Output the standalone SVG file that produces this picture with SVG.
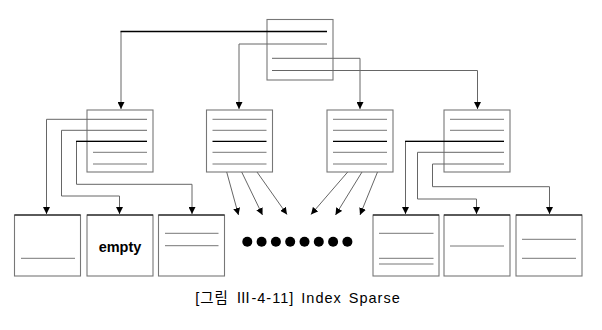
<svg xmlns="http://www.w3.org/2000/svg" width="602" height="330" viewBox="0 0 602 330">
<style>
.box{fill:#fff;stroke:#777;stroke-width:1.1}
.top{stroke:#000;stroke-width:1.1}
.ln{stroke:#777;stroke-width:1;fill:none}
.bk{stroke:#000;stroke-width:1.3;fill:none}
.cn{stroke:#666;stroke-width:1;fill:none;marker-end:url(#ah)}
.dot{fill:#000}
text{font-family:"Liberation Sans",Arial,"Noto Sans CJK KR",sans-serif}
</style>
<defs>
<marker id="ah" viewBox="0 0 10 10" refX="10" refY="5" markerWidth="7" markerHeight="7" markerUnits="userSpaceOnUse" orient="auto">
<path d="M0,0 L10,5 L0,10 z" fill="#000"/>
</marker>
</defs>
<rect width="602" height="330" fill="#fff"/>

<g id="root">
<rect class="box" x="267" y="19.5" width="66" height="60.5"/>
</g>

<g id="n1">
<rect class="box" x="87" y="110" width="66" height="62"/>
<line class="ln" x1="93" y1="152.3" x2="147" y2="152.3"/>
<line class="ln" x1="93" y1="164" x2="147" y2="164"/>
</g>
<g id="n2">
<rect class="box" x="206.5" y="110" width="66" height="62"/>
<line class="ln" x1="212.5" y1="119.3" x2="266.5" y2="119.3"/>
<line class="ln" x1="212.5" y1="130.3" x2="266.5" y2="130.3"/>
<line class="bk" x1="212.5" y1="141.3" x2="266.5" y2="141.3"/>
<line class="ln" x1="212.5" y1="152.3" x2="266.5" y2="152.3"/>
<line class="ln" x1="212.5" y1="164" x2="266.5" y2="164"/>
</g>
<g id="n3">
<rect class="box" x="327" y="110" width="66" height="62"/>
<line class="ln" x1="333" y1="119.3" x2="387" y2="119.3"/>
<line class="ln" x1="333" y1="130.3" x2="387" y2="130.3"/>
<line class="bk" x1="333" y1="141.3" x2="387" y2="141.3"/>
<line class="ln" x1="333" y1="152.3" x2="387" y2="152.3"/>
<line class="ln" x1="333" y1="164" x2="387" y2="164"/>
</g>
<g id="n4">
<rect class="box" x="444" y="110" width="66" height="62"/>
<line class="ln" x1="450" y1="119.3" x2="504" y2="119.3"/>
<line class="ln" x1="450" y1="130.3" x2="504" y2="130.3"/>
</g>

<g id="leafA">
<rect class="box" x="14.5" y="215" width="66" height="61"/>
<line class="top" x1="14.5" y1="215" x2="80.5" y2="215"/>
<line class="ln" x1="21" y1="258.3" x2="75" y2="258.3"/>
</g>
<g id="leafB">
<rect class="box" x="87" y="215" width="66" height="61"/>
<line class="top" x1="87" y1="215" x2="153" y2="215"/>
<text x="120" y="251.5" font-size="14.5" font-weight="bold" text-anchor="middle" fill="#000">empty</text>
</g>
<g id="leafC">
<rect class="box" x="158.5" y="215" width="66" height="61"/>
<line class="top" x1="158.5" y1="215" x2="224.5" y2="215"/>
<line class="ln" x1="165" y1="233.3" x2="218.5" y2="233.3"/>
<line class="ln" x1="165" y1="245.7" x2="218.5" y2="245.7"/>
</g>
<g id="leafD">
<rect class="box" x="373" y="215" width="66" height="61"/>
<line class="top" x1="373" y1="215" x2="439" y2="215"/>
<line class="ln" x1="379" y1="233.3" x2="433.5" y2="233.3"/>
<line class="ln" x1="379" y1="258.3" x2="433.5" y2="258.3"/>
<line class="ln" x1="379" y1="264" x2="433.5" y2="264"/>
</g>
<g id="leafE">
<rect class="box" x="444" y="215" width="66" height="61"/>
<line class="top" x1="444" y1="215" x2="510" y2="215"/>
<line class="ln" x1="450" y1="246" x2="504" y2="246"/>
</g>
<g id="leafF">
<rect class="box" x="516" y="215" width="66" height="61"/>
<line class="top" x1="516" y1="215" x2="582" y2="215"/>
<line class="ln" x1="522" y1="239.3" x2="576" y2="239.3"/>
<line class="ln" x1="522" y1="258.3" x2="576" y2="258.3"/>
</g>

<g id="dots">
<circle class="dot" cx="247.3" cy="241.7" r="5"/>
<circle class="dot" cx="261.6" cy="241.7" r="5"/>
<circle class="dot" cx="275.9" cy="241.7" r="5"/>
<circle class="dot" cx="290.2" cy="241.7" r="5"/>
<circle class="dot" cx="304.5" cy="241.7" r="5"/>
<circle class="dot" cx="318.8" cy="241.7" r="5"/>
<circle class="dot" cx="333.1" cy="241.7" r="5"/>
<circle class="dot" cx="347.4" cy="241.7" r="5"/>
</g>

<g id="connectors">
<polyline class="cn" points="327,31.5 121,31.5 121,109"/>
<line class="bk" x1="327" y1="31.5" x2="120.5" y2="31.5"/>
<polyline class="cn" points="327,44 239,44 239,109"/>
<polyline class="cn" points="272,58.3 360,58.3 360,109"/>
<polyline class="cn" points="272,70.5 477.5,70.5 477.5,109"/>

<polyline class="cn" points="147,119.3 46.5,119.3 46.5,214"/>
<polyline class="cn" points="147,130.3 61.5,130.3 61.5,196 119.5,196 119.5,214"/>
<polyline class="cn" points="147,141.3 76.5,141.3 76.5,184.3 192,184.3 192,214"/>
<line class="bk" x1="147" y1="141.3" x2="76" y2="141.3"/>

<polyline class="cn" points="504,141.3 405.5,141.3 405.5,214"/>
<line class="bk" x1="504" y1="141.3" x2="405" y2="141.3"/>
<polyline class="cn" points="504,152.3 417.5,152.3 417.5,199 476.5,199 476.5,214"/>
<polyline class="cn" points="504,164 432.5,164 432.5,186.7 549.5,186.7 549.5,214"/>

<line class="cn" x1="226.7" y1="172" x2="238.5" y2="215"/>
<line class="cn" x1="241.7" y1="172" x2="262.5" y2="215"/>
<line class="cn" x1="257" y1="172" x2="287" y2="214.5"/>
<line class="cn" x1="347.7" y1="172" x2="311" y2="214.5"/>
<line class="cn" x1="362" y1="172" x2="335.5" y2="215"/>
<line class="cn" x1="377.5" y1="172" x2="360" y2="215"/>
</g>

<text x="298" y="303" font-size="14.5" letter-spacing="1" word-spacing="2" text-anchor="middle" fill="#000">[그림 Ⅲ-4-11] Index Sparse</text>
</svg>
